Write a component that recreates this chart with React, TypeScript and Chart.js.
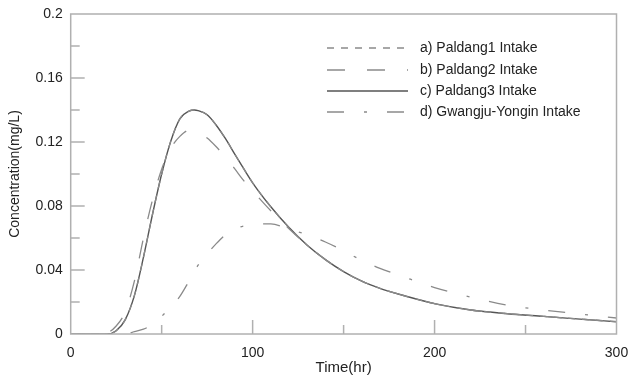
import React, { useEffect, useRef } from "react";
import { Chart, registerables } from "chart.js";

Chart.register(...registerables);

const times = [0, 20, 25, 30, 35, 40, 45, 50, 55, 60, 65, 68, 70, 75, 80, 85, 90, 95, 100, 110, 120, 130, 140, 150, 160, 170, 180, 200, 220, 240, 260, 280, 300];

const paldang1 = [0, 0, 0.002, 0.009, 0.024, 0.048, 0.075, 0.100, 0.1205, 0.1345, 0.1393, 0.1400, 0.1396, 0.1370, 0.1305, 0.1222, 0.1128, 0.1035, 0.0945, 0.0795, 0.0665, 0.0555, 0.0465, 0.039, 0.033, 0.0285, 0.025, 0.019, 0.015, 0.0127, 0.011, 0.0093, 0.0077];
const paldang2 = [0, 0.001, 0.005, 0.014, 0.033, 0.060, 0.084, 0.103, 0.116, 0.1235, 0.1272, 0.1268, 0.1258, 0.1225, 0.117, 0.1105, 0.1035, 0.096, 0.0895, 0.077, 0.0658, 0.0555, 0.0465, 0.039, 0.033, 0.0285, 0.025, 0.019, 0.015, 0.0127, 0.011, 0.0093, 0.0077];
const paldang3 = [0, 0, 0.002, 0.009, 0.024, 0.048, 0.075, 0.100, 0.1205, 0.1345, 0.1393, 0.1400, 0.1396, 0.1370, 0.1305, 0.1222, 0.1128, 0.1035, 0.0945, 0.0795, 0.0665, 0.0555, 0.0465, 0.039, 0.033, 0.0285, 0.025, 0.019, 0.015, 0.0127, 0.011, 0.0093, 0.0077];
const gwangju = [0, 0, 0, 0, 0.0015, 0.003, 0.006, 0.011, 0.017, 0.0235, 0.033, 0.039, 0.043, 0.050, 0.0565, 0.062, 0.0655, 0.0675, 0.0685, 0.0688, 0.0655, 0.062, 0.0575, 0.052, 0.046, 0.041, 0.037, 0.029, 0.023, 0.018, 0.015, 0.0125, 0.010];

const seriesLabels = ["a) Paldang1 Intake", "b) Paldang2 Intake", "c) Paldang3 Intake", "d) Gwangju-Yongin Intake"];

const xTickValues = [0, 100, 200, 300];
const xTickLabels = ["0", "100", "200", "300"];
const yTickValues = [0, 0.04, 0.08, 0.12, 0.16, 0.2];
const yTickLabels = ["0", "0.04", "0.08", "0.12", "0.16", "0.2"];
const xMinorTicks = [50, 150, 250];
const xMajorTicks = [100, 200];
const yMinorTicks = [0.02, 0.06, 0.1, 0.14, 0.18];
const yMajorTicks = [0.04, 0.08, 0.12, 0.16];

const FONT = "'Liberation Sans', Arial, sans-serif";
const AXIS_COLOR = "#b0b0b0";

const framePlugin = {
  id: "frame",
  afterDatasetsDraw(chart: any) {
    const { ctx, chartArea: a, scales } = chart;
    const xs = scales.x;
    const ys = scales.y;
    ctx.save();
    ctx.strokeStyle = AXIS_COLOR;
    ctx.lineWidth = 1.5;
    ctx.strokeRect(a.left, a.top, a.right - a.left, a.bottom - a.top);
    ctx.beginPath();
    xMinorTicks.forEach((v) => {
      const px = xs.getPixelForValue(v);
      ctx.moveTo(px, a.bottom);
      ctx.lineTo(px, a.bottom - 9);
    });
    xMajorTicks.forEach((v) => {
      const px = xs.getPixelForValue(v);
      ctx.moveTo(px, a.bottom);
      ctx.lineTo(px, a.bottom - 14);
    });
    yMinorTicks.forEach((v) => {
      const py = ys.getPixelForValue(v);
      ctx.moveTo(a.left, py);
      ctx.lineTo(a.left + 9, py);
    });
    yMajorTicks.forEach((v) => {
      const py = ys.getPixelForValue(v);
      ctx.moveTo(a.left, py);
      ctx.lineTo(a.left + 14, py);
    });
    ctx.stroke();

    // legend
    const rows = [48, 70, 91, 112];
    chart.data.datasets.forEach((ds: any, i: number) => {
      const y = rows[i];
      ctx.beginPath();
      ctx.setLineDash(ds.borderDash || []);
      ctx.strokeStyle = ds.borderColor;
      ctx.lineWidth = ds.borderWidth;
      ctx.moveTo(327, y);
      ctx.lineTo(408, y);
      ctx.stroke();
      ctx.setLineDash([]);
      ctx.fillStyle = "#222";
      ctx.font = `14px ${FONT}`;
      ctx.textBaseline = "middle";
      ctx.textAlign = "left";
      ctx.fillText(ds.label, 420, y);
    });
    ctx.restore();
  },
};

export default function App() {
  const ref = useRef<HTMLCanvasElement | null>(null);
  useEffect(() => {
    if (!ref.current) return;
    const mk = (label: string, data: number[], color: string, width: number, dash: number[]) => ({
      label,
      data: times.map((t, i) => ({ x: t, y: data[i] })),
      borderColor: color,
      borderWidth: width,
      borderDash: dash,
      pointRadius: 0,
      fill: false,
      cubicInterpolationMode: "monotone" as const,
    });
    const chart = new Chart(ref.current, {
      type: "line",
      data: {
        datasets: [
          mk(seriesLabels[0], paldang1, "#8a8a8a", 1.3, [7, 7]),
          mk(seriesLabels[1], paldang2, "#8a8a8a", 1.3, [18, 22]),
          mk(seriesLabels[2], paldang3, "#555555", 1.4, []),
          mk(seriesLabels[3], gwangju, "#8a8a8a", 1.3, [17, 20, 3, 20]),
        ],
      },
      options: {
        animation: false,
        responsive: true,
        maintainAspectRatio: false,
        layout: { padding: { top: 14, right: 12.5, left: 0, bottom: 0 } },
        plugins: { legend: { display: false }, tooltip: { enabled: false } },
        scales: {
          x: {
            type: "linear",
            min: 0,
            max: 300,
            afterFit: (s: any) => {
              s.height = 47;
              s.paddingLeft = 0;
              s.paddingRight = 0;
            },
            afterBuildTicks: (s: any) => {
              s.ticks = xTickValues.map((v) => ({ value: v }));
            },
            grid: { display: false, drawTicks: false },
            border: { display: false },
            ticks: {
              padding: 11,
              color: "#222",
              font: { family: FONT, size: 14 },
              maxRotation: 0,
              callback: (v: any) => xTickLabels[xTickValues.indexOf(Number(v))] ?? "",
            },
            title: {
              display: true,
              text: "Time(hr)",
              color: "#222",
              font: { family: FONT, size: 15 },
              padding: { top: 0, bottom: 4 },
            },
          },
          y: {
            type: "linear",
            min: 0,
            max: 0.2,
            afterFit: (s: any) => {
              s.width = 70.7;
              s.paddingTop = 0;
              s.paddingBottom = 0;
            },
            afterBuildTicks: (s: any) => {
              s.ticks = yTickValues.map((v) => ({ value: v }));
            },
            grid: { display: false, drawTicks: false },
            border: { display: false },
            ticks: {
              padding: 8,
              color: "#222",
              font: { family: FONT, size: 14 },
              callback: (v: any) => {
                const i = yTickValues.findIndex((t) => Math.abs(t - Number(v)) < 1e-9);
                return i >= 0 ? yTickLabels[i] : "";
              },
            },
            title: {
              display: true,
              text: "Concentration(mg/L)",
              color: "#222",
              font: { family: FONT, size: 14 },
              padding: { top: 7, bottom: 0 },
            },
          },
        },
      },
      plugins: [framePlugin],
    });
    return () => chart.destroy();
  }, []);
  return (
    <div style={{ position: "absolute", left: 0, top: 0, width: 629, height: 381, background: "#fff" }}>
      <canvas ref={ref} />
    </div>
  );
}
